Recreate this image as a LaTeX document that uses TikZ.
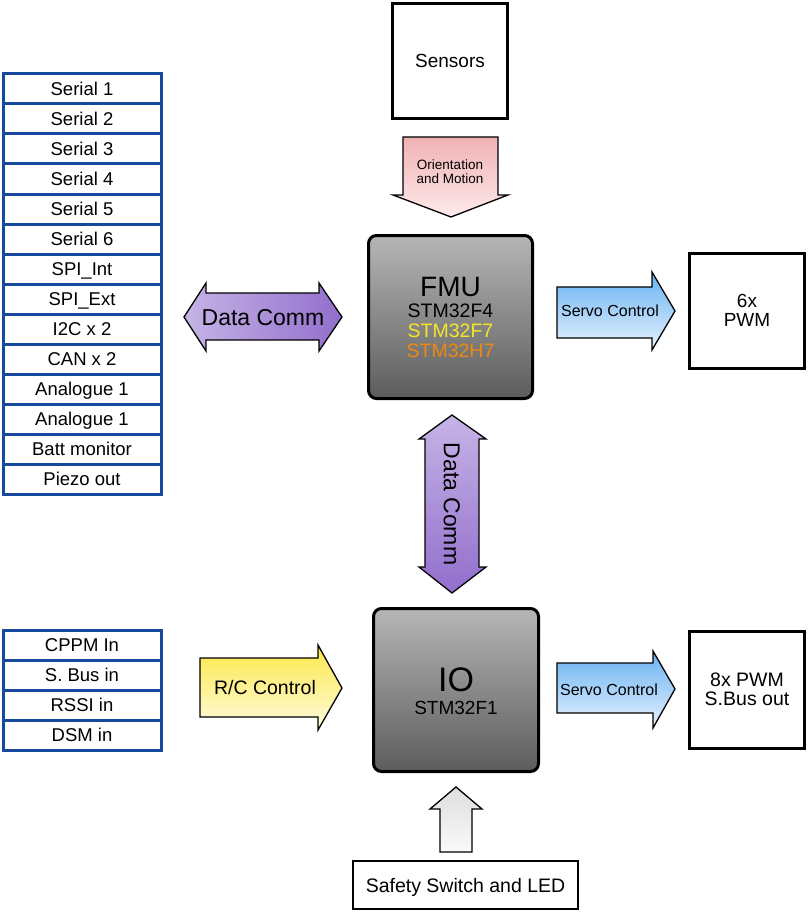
\documentclass[tikz,border=0pt]{standalone}
\usepackage{fontspec}
\setmainfont{Liberation Sans}
\definecolor{listblue}{RGB}{22,74,158}
\definecolor{purpL}{RGB}{198,180,230}
\definecolor{purpD}{RGB}{146,110,204}
\definecolor{pinkT}{RGB}{240,178,180}
\definecolor{pinkB}{RGB}{253,234,234}
\definecolor{blueT}{RGB}{104,178,242}
\definecolor{blueB}{RGB}{230,242,253}
\definecolor{yelT}{RGB}{252,232,70}
\definecolor{yelB}{RGB}{255,251,225}
\definecolor{grayT}{RGB}{222,222,222}
\definecolor{grayB}{RGB}{250,250,250}
\definecolor{chipT}{RGB}{182,182,182}
\definecolor{chipB}{RGB}{92,92,92}
\definecolor{stmY}{RGB}{247,229,40}
\definecolor{stmO}{RGB}{239,136,16}
\newcommand{\fs}[1]{\fontsize{#1}{#1}\selectfont}
\begin{document}
\begin{tikzpicture}[x=1pt,y=-1pt,
  lbl/.style={inner sep=0pt, font=\fs{#1}, anchor=base, yshift={-0.358*#1pt}},
  listbox/.style={draw=listblue, line width=3pt, fill=white, minimum width=158pt, minimum height=30pt, inner sep=0pt, text height=13.3pt, text depth=0pt, font=\fs{18.5}},
  blockbox/.style={draw=black, line width=3.5pt, fill=white, minimum width=115pt, minimum height=115pt, inner sep=0pt},
  chip/.style={draw=black, line width=3pt, rounded corners=8pt, top color=chipT, bottom color=chipB, minimum width=164pt, minimum height=163pt, inner sep=0pt},
  blockarrow/.style={draw=black, line width=1.3pt, line join=miter}
]
\useasboundingbox (0,0) rectangle (808,912);

% left list
\foreach \t [count=\i from 0] in {Serial 1,Serial 2,Serial 3,Serial 4,Serial 5,Serial 6,SPI\_Int,SPI\_Ext,I2C x 2,CAN x 2,Analogue 1,Analogue 1,Batt monitor,Piezo out}
  \node[listbox] (l\i) at (82,{89+30*\i}) {\t};

% bottom list
\foreach \t [count=\i from 0] in {CPPM In,S. Bus in,RSSI in,DSM in}
  \node[listbox] (r\i) at (82,{645+30*\i}) {\t};

% boxes
\node[blockbox] (sensors) at (450,61) {};
\node[lbl=19] (sensorsT) at (sensors.center) {Sensors};
\node[blockbox] (pwm6) at (747,311) {};
\node[lbl=19] (pwm6a) at (747,301) {6x};
\node[lbl=19] (pwm6b) at (747,320) {PWM};
\node[blockbox, minimum height=117pt] (pwm8) at (747,690) {};
\node[lbl=19.5] (pwm8a) at (747,680) {8x PWM};
\node[lbl=19.5] (pwm8b) at (747,699) {S.Bus out};
\node[draw=black, line width=2pt, fill=white, minimum width=225pt, minimum height=48pt] (safety) at (465.5,885) {};
\node[lbl=19.5] (safetyT) at (465.5,886) {Safety Switch and LED};

% chips
\node[chip] (fmu) at (450.5,317) {};
\node[lbl=28] (fmuT) at (450.5,286) {FMU};
\node[lbl=19.5] (f4) at (450.5,311) {STM32F4};
\node[lbl=19.5, text=stmY] (f7) at (450.5,331) {STM32F7};
\node[lbl=19.5, text=stmO] (h7) at (450.5,351) {STM32H7};
\node[chip, minimum width=165pt, minimum height=163pt] (io) at (456,690) {};
\node[lbl=34] (ioT) at (456,679) {IO};
\node[lbl=19] (f1) at (456,708) {STM32F1};

% block arrows
\shade[blockarrow, top color=pinkT, bottom color=pinkB]
  (403,137) -- (498,137) -- (498,195) -- (508,195) -- (451,217) -- (393,195) -- (403,195) -- cycle;
\node[lbl=13.5] (orient1) at (450,165) {Orientation};
\node[lbl=13.5] (orient2) at (450,179) {and Motion};

\shade[blockarrow, left color=purpL, right color=purpD]
  (184,317) -- (206,283) -- (206,293) -- (319,293) -- (319,283) -- (342,317) -- (319,351) -- (319,340) -- (206,340) -- (206,351) -- cycle;
\node[lbl=23] (dc1) at (263,317) {Data Comm};

\shade[blockarrow, top color=purpL, bottom color=purpD]
  (452,415) -- (486,439) -- (479,439) -- (479,567) -- (486,567) -- (452,593) -- (419,567) -- (425,567) -- (425,439) -- (419,439) -- cycle;
\node[inner sep=0pt, font=\fs{23}, text height=16.5pt, text depth=0pt, rotate=-90] (dc2) at (452,504) {Data Comm};

\shade[blockarrow, top color=blueT, bottom color=blueB]
  (557,287) -- (652,287) -- (652,272) -- (675,311) -- (652,350) -- (652,338) -- (557,338) -- cycle;
\node[lbl=16] (servo1) at (610,311) {Servo Control};

\shade[blockarrow, top color=blueT, bottom color=blueB]
  (557,663) -- (653,663) -- (653,651) -- (675,689) -- (653,728) -- (653,713) -- (557,713) -- cycle;
\node[lbl=16] (servo2) at (609,690) {Servo Control};

\shade[blockarrow, top color=yelT, bottom color=yelB]
  (200,658) -- (318,658) -- (318,645) -- (342,688) -- (318,730) -- (318,717) -- (200,717) -- cycle;
\node[lbl=19.5] (rc) at (265,688) {R/C Control};

\shade[blockarrow, top color=grayT, bottom color=grayB]
  (456,787) -- (482,809) -- (472,809) -- (472,852) -- (440,852) -- (440,809) -- (430,809) -- cycle;
\end{tikzpicture}
\end{document}
